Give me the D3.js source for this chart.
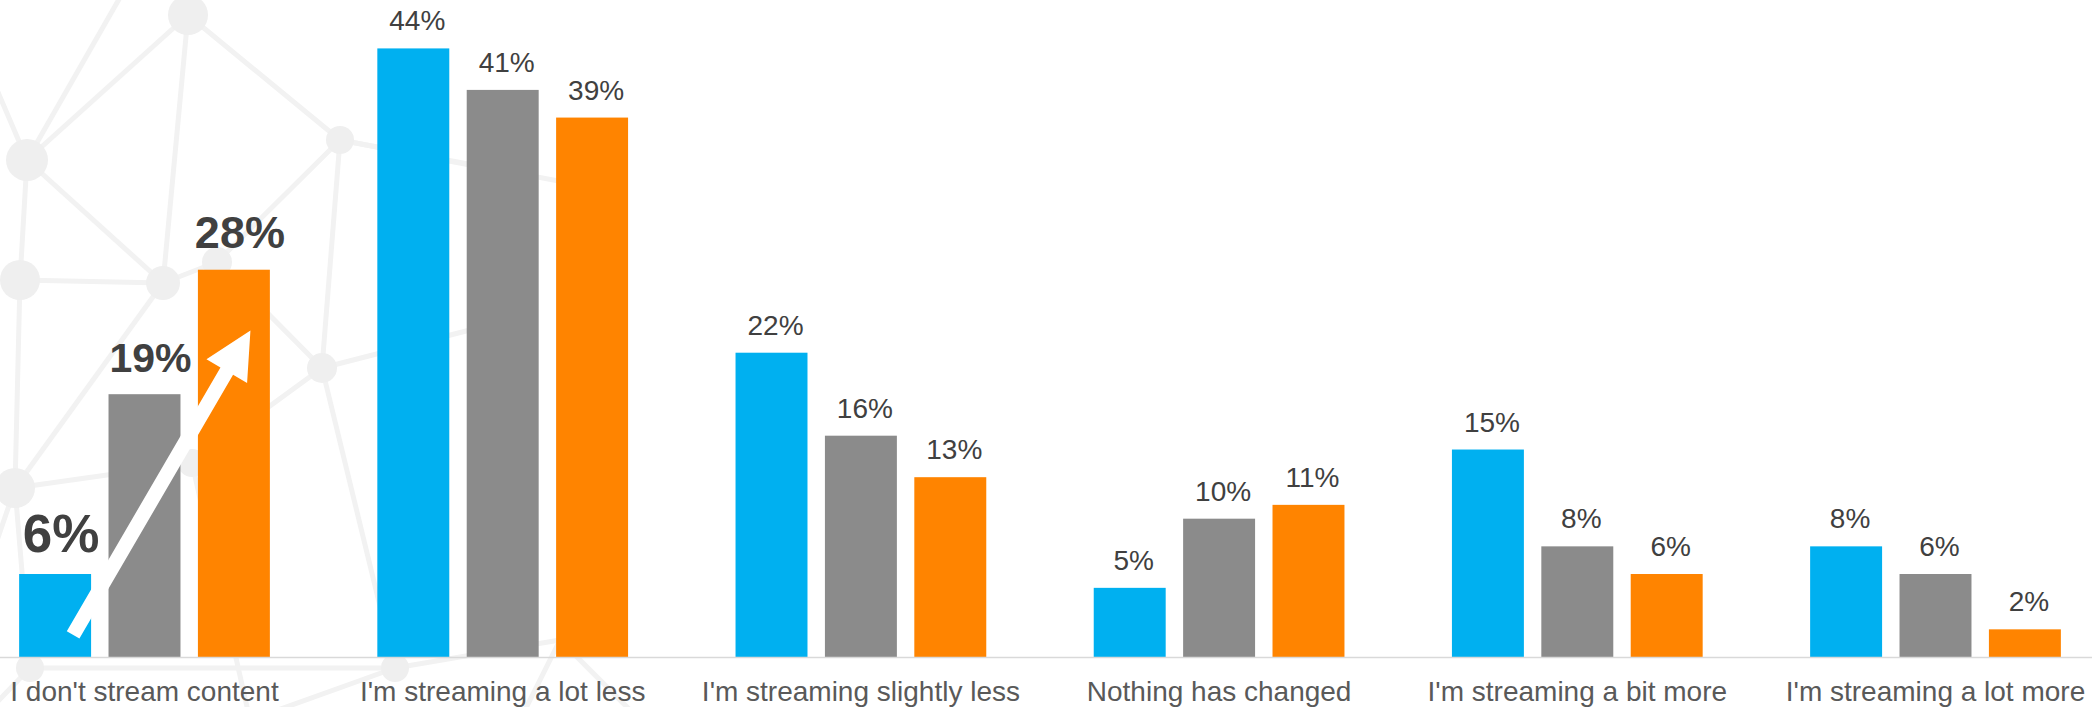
<!DOCTYPE html>
<html>
<head>
<meta charset="utf-8">
<script src="https://cdn.jsdelivr.net/npm/d3@7"></script>
<style>
  html, body { margin: 0; padding: 0; background: #ffffff; }
  svg { display: block; }
</style>
</head>
<body>
<svg id="chart" width="2092" height="707"></svg>
<script>
// Survey answers, one group of three bars per answer
const categories = [
  "I don't stream content",
  "I'm streaming a lot less",
  "I'm streaming slightly less",
  "Nothing has changed",
  "I'm streaming a bit more",
  "I'm streaming a lot more"
];
const seriesKeys = ["first", "second", "third"];
const firstValues  = [6, 44, 22, 5, 15, 8];
const secondValues = [19, 41, 16, 10, 8, 6];
const thirdValues  = [28, 39, 13, 11, 6, 2];
const seriesColors = ["#00B0F0", "#8B8B8B", "#FF8400"];

// Faint network pattern in the background (decoration only)
const bgNodes = [
  [188, 15, 20], [27, 160, 21], [340, 140, 14], [20, 280, 20], [163, 283, 17],
  [217, 262, 15], [322, 368, 15], [15, 488, 20], [192, 463, 14], [30, 668, 14],
  [395, 668, 14], [560, 640, 0], [130, -20, 0], [-20, 50, 0], [470, 165, 0],
  [-20, 590, 0], [580, 185, 0], [250, 720, 0], [520, 720, 0], [-20, 720, 0],
  [470, 330, 0], [640, 720, 0]
];
const bgLinks = [
  [0, 1], [1, 12], [1, 13], [0, 4], [0, 2], [1, 3], [1, 4], [3, 4], [4, 5],
  [2, 6], [2, 14], [2, 5], [5, 6], [3, 7], [6, 8], [6, 10], [7, 9], [7, 4],
  [8, 17], [10, 11], [11, 18], [7, 15], [2, 16], [9, 19], [6, 20], [8, 7],
  [10, 17], [11, 21], [9, 10]
];

const valuesBySeries = [firstValues, secondValues, thirdValues];
const rows = categories.map((c, i) => ({
  category: c,
  index: i,
  values: seriesKeys.map((k, s) => ({ key: k, s, value: valuesBySeries[s][i], ci: i }))
}));

const W = 2092, H = 707;
const baseline = 657;
const svg = d3.select("#chart");
const font = "'Liberation Sans', Arial, Helvetica, sans-serif";

// Background pattern
const bg = svg.append("g").attr("class", "bg-network");
bg.selectAll("line").data(bgLinks).join("line")
  .attr("x1", d => bgNodes[d[0]][0]).attr("y1", d => bgNodes[d[0]][1])
  .attr("x2", d => bgNodes[d[1]][0]).attr("y2", d => bgNodes[d[1]][1])
  .attr("stroke", "#f2f2f2").attr("stroke-width", 5).attr("stroke-linecap", "round");
bg.selectAll("circle").data(bgNodes.filter(n => n[2] > 0)).join("circle")
  .attr("cx", d => d[0]).attr("cy", d => d[1]).attr("r", d => d[2])
  .attr("fill", "#efefef");

// Scales
const x0 = d3.scaleBand()
  .domain(categories)
  .range([-34.6, 2114.6])
  .paddingInner(0.3)
  .paddingOuter(0.15);

const x1 = d3.scaleBand()
  .domain(seriesKeys)
  .range([0, x0.bandwidth()])
  .paddingInner(0.195)
  .paddingOuter(0);

const y = d3.scaleLinear().domain([0, 47.5]).range([baseline, 0]);

// Bars
const groups = svg.append("g").selectAll("g.group").data(rows).join("g")
  .attr("class", "group")
  .attr("transform", d => `translate(${x0(d.category)},0)`);

groups.selectAll("rect").data(d => d.values).join("rect")
  .attr("x", d => x1(d.key))
  .attr("y", d => y(d.value))
  .attr("width", x1.bandwidth())
  .attr("height", d => y(0) - y(d.value))
  .attr("fill", d => seriesColors[d.s]);

// Value labels: the first answer is highlighted with large bold labels
const boldSizes = [53, 41, 45];
groups.selectAll("text.value").data(d => d.values).join("text")
  .attr("class", "value")
  .attr("x", d => x1(d.key) + x1.bandwidth() / 2 + (d.ci === 0 ? 6 : 4))
  .attr("y", d => y(d.value) - (d.ci === 0 ? 22 : 18))
  .attr("text-anchor", "middle")
  .attr("font-family", font)
  .attr("font-weight", d => d.ci === 0 ? "bold" : "normal")
  .attr("font-size", d => d.ci === 0 ? boldSizes[d.s] : 28)
  .attr("fill", "#404040")
  .text(d => d.value + "%");

// Category axis
const xAxis = d3.axisBottom(x0).tickSize(0).tickPadding(0);
const axisG = svg.append("g")
  .attr("transform", `translate(0,${baseline})`)
  .call(xAxis);
axisG.select(".domain").remove();
axisG.append("line")
  .attr("x1", 0).attr("x2", W).attr("y1", 0.5).attr("y2", 0.5)
  .attr("stroke", "#d9d9d9").attr("stroke-width", 1.5);
axisG.selectAll(".tick text")
  .attr("y", 44)
  .attr("dy", 0)
  .attr("font-family", font)
  .attr("font-size", 28)
  .attr("fill", "#595959");

// Upward arrow across the first group, from the first bar to the third
const g0 = x0(categories[0]);
const tail = [g0 + x1(seriesKeys[0]) + x1.bandwidth() * 0.75, y(1.6)];
const tip = [g0 + x1(seriesKeys[2]) + x1.bandwidth() * 0.73, y(23.6)];
const dx = tip[0] - tail[0], dy = tip[1] - tail[1];
const len = Math.hypot(dx, dy);
const ux = dx / len, uy = dy / len;
const px = -uy, py = ux;
const shaftHalf = 7.3, headHalf = 23.5, headLen = 47;
const hb = [tip[0] - ux * headLen, tip[1] - uy * headLen];
const arrowPts = [
  [tail[0] + px * shaftHalf, tail[1] + py * shaftHalf],
  [hb[0] + px * shaftHalf, hb[1] + py * shaftHalf],
  [hb[0] + px * headHalf, hb[1] + py * headHalf],
  tip,
  [hb[0] - px * headHalf, hb[1] - py * headHalf],
  [hb[0] - px * shaftHalf, hb[1] - py * shaftHalf],
  [tail[0] - px * shaftHalf, tail[1] - py * shaftHalf]
];
svg.append("path")
  .attr("d", d3.line()(arrowPts) + "Z")
  .attr("fill", "#ffffff");
</script>
</body>
</html>
